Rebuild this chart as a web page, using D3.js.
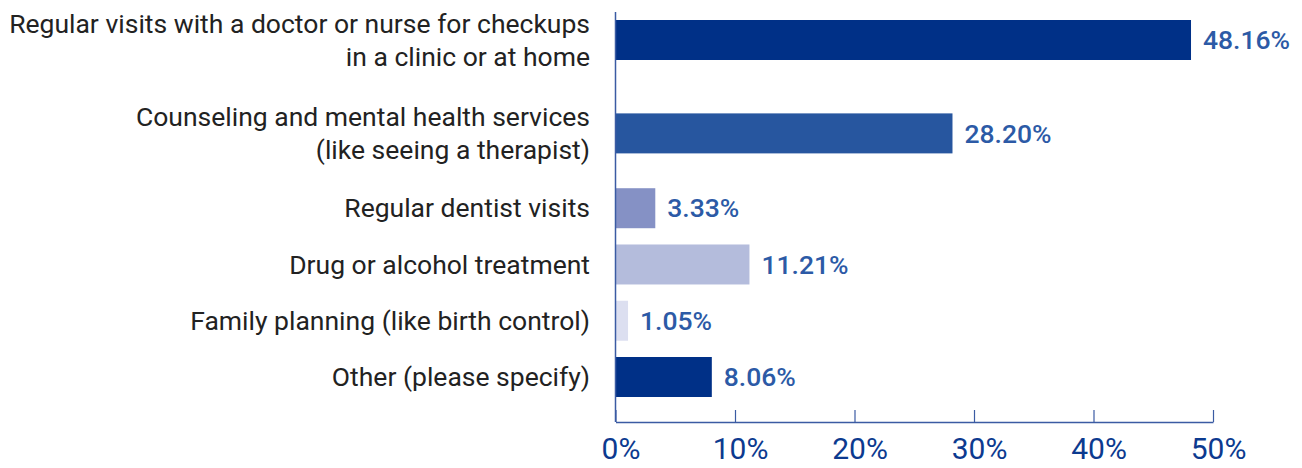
<!DOCTYPE html>
<html>
<head>
<meta charset="utf-8">
<script src="https://cdn.jsdelivr.net/npm/d3@7"></script>
<style>
  body { margin: 0; background: #fff; }
  svg { display: block; font-family: Roboto, "Noto Sans", sans-serif; }
</style>
</head>
<body>
<div id="chart"></div>
<script>
var categories = [
  ["Regular visits with a doctor or nurse for checkups", "in a clinic or at home"],
  ["Counseling and mental health services", "(like seeing a therapist)"],
  ["Regular dentist visits"],
  ["Drug or alcohol treatment"],
  ["Family planning (like birth control)"],
  ["Other (please specify)"]
];
var values = [48.16, 28.20, 3.33, 11.21, 1.05, 8.06];
var colors = ["#003087", "#27569f", "#8591c5", "#b4bcdc", "#dcdff0", "#003087"];
var ticks = [0, 10, 20, 30, 40, 50];

var fw = 1302, fh = 468;
var axisX = 615.5, axisBottom = 422, axisTop = 12;

var svg = d3.select("#chart").append("svg")
  .attr("width", fw)
  .attr("height", fh);

var x = d3.scaleLinear().domain([0, 50]).range([axisX, 1213]);

// two-line labels take a taller slot than one-line ones
var slot = categories.map(function(c) { return 1 + 0.66 * (c.length - 1); });
var centers = [];
var acc = 0;
slot.forEach(function(s) { centers.push(acc + s / 2); acc += s; });
var y = d3.scaleLinear().domain([centers[0], centers[5]]).range([40, 377]);
var barH = 40;

svg.selectAll("rect.bar")
  .data(values)
  .enter().append("rect")
  .attr("class", "bar")
  .attr("x", x(0))
  .attr("y", function(d, i) { return y(centers[i]) - barH / 2; })
  .attr("width", function(d) { return x(d) - x(0); })
  .attr("height", barH)
  .attr("fill", function(d, i) { return colors[i]; });

svg.selectAll("text.val")
  .data(values)
  .enter().append("text")
  .attr("class", "val")
  .attr("x", function(d) { return x(d) + 12; })
  .attr("y", function(d, i) { return y(centers[i]); })
  .attr("dy", "0.35em")
  .attr("fill", "#2c5aa6")
  .style("font-size", "26.5px")
  .style("font-weight", 500)
  .text(function(d) { return d.toFixed(2) + "%"; });

var lab = svg.selectAll("text.cat")
  .data(categories)
  .enter().append("text")
  .attr("class", "cat")
  .attr("text-anchor", "end")
  .attr("fill", "#222")
  .style("font-size", "26.5px")
  .attr("transform", function(d, i) {
    return "translate(590," + (y(centers[i]) - (d.length - 1) * 16.5) + ")";
  });

lab.selectAll("tspan")
  .data(function(d) { return d; })
  .enter().append("tspan")
  .attr("x", 0)
  .attr("y", function(d, j) { return j * 33; })
  .attr("dy", "0.35em")
  .text(function(d) { return d; });

// left axis line
svg.append("line")
  .attr("x1", axisX).attr("x2", axisX)
  .attr("y1", axisTop).attr("y2", axisBottom)
  .attr("stroke", "#3b5ba3")
  .attr("stroke-width", 1.5);

var xA = d3.axisBottom(x)
  .tickValues(ticks)
  .tickSize(-12)
  .tickSizeOuter(0)
  .tickPadding(16)
  .tickFormat(function(d) { return d + "%"; });

var gx = svg.append("g")
  .attr("transform", "translate(0," + axisBottom + ")")
  .call(xA);

gx.select(".domain").attr("stroke", "#3b5ba3").attr("stroke-width", 1.5);
gx.selectAll(".tick line").attr("stroke", "#3b5ba3").attr("stroke-width", 1.2);
gx.selectAll(".tick text")
  .attr("fill", "#0c3a8f")
  .attr("dx", 5)
  .style("font-size", "30px")
  .style("font-family", "Roboto, sans-serif");
</script>
</body>
</html>
